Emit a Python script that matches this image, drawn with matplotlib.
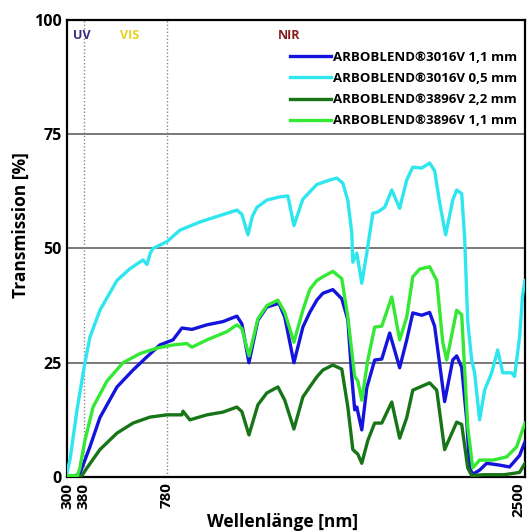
import matplotlib
matplotlib.use("Agg")
import matplotlib.pyplot as plt

plt.rcParams['font.family'] = ['Open Sans', 'DejaVu Sans']

# Transmission spectra (wavelength in nm, transmission in %)
wl_3016_11 = [300, 340, 362, 410, 458, 540, 617, 684, 746, 809, 852, 900, 972, 1049,
              1116, 1140, 1174, 1217, 1260, 1318, 1346, 1390, 1433, 1466, 1500, 1529,
              1577, 1620, 1649, 1668, 1682, 1692, 1716, 1740, 1778, 1812, 1850, 1898,
              1932, 1961, 2004, 2042, 2066, 2114, 2153, 2172, 2196, 2220, 2234, 2249,
              2282, 2316, 2378, 2426, 2474, 2500]
tr_3016_11 = [0.3, 0.3, 0.8, 6.6, 13, 19.7, 23.4, 26.3, 28.9, 30, 32.6, 32.3, 33.3, 34,
              35.2, 33.5, 25, 34.3, 37.2, 38, 35, 25, 32.8, 36, 38.7, 40.2,
              41, 39, 34.4, 21.9, 14.7, 15.3, 10.3, 19.5, 25.6, 25.8, 31.5, 23.9,
              30, 35.9, 35.4, 36, 33, 16.5, 25.6, 26.5, 24, 12.5, 2, 0.6,
              1.5, 3, 2.6, 2.2, 4.7, 7.7]

wl_3016_05 = [300, 315, 348, 386, 410, 458, 540, 600, 665, 684, 700, 713, 780, 842,
              938, 1020, 1116, 1140, 1169, 1190, 1212, 1260, 1322, 1361, 1390, 1433,
              1500, 1562, 1596, 1625, 1649, 1668, 1673, 1692, 1716, 1740, 1769, 1793,
              1826, 1860, 1898, 1932, 1961, 2004, 2042, 2066, 2090, 2119, 2153, 2172,
              2196, 2210, 2225, 2244, 2258, 2282, 2306, 2340, 2369, 2393, 2436, 2450,
              2474, 2489, 2500]
tr_3016_05 = [1.0, 4, 14.7, 25, 30.6, 36.5, 43, 45.5, 47.5, 46.5, 49, 50, 51.5, 54,
              55.8, 57, 58.4, 57.5, 53, 57, 59, 60.6, 61.3, 61.5, 55, 60.8,
              64, 65, 65.4, 64.3, 60.5, 53.4, 47, 49, 42.4, 49, 57.7, 58,
              59, 62.8, 58.8, 65, 67.8, 67.6, 68.7, 67, 60, 53, 60.6, 62.8,
              62, 52.5, 34, 25.6, 22.8, 12.5, 19, 22.8, 27.8, 22.8, 22.8, 22,
              30.6, 40, 43]

wl_3896_22 = [300, 370, 396, 458, 540, 617, 698, 780, 852, 857, 890, 972, 1049, 1116,
              1140, 1174, 1217, 1260, 1313, 1346, 1390, 1433, 1466, 1500, 1529, 1577,
              1620, 1649, 1673, 1697, 1716, 1745, 1778, 1812, 1860, 1898, 1932, 1961,
              2042, 2076, 2114, 2172, 2196, 2225, 2244, 2300, 2400, 2474, 2500]
tr_3896_22 = [0.2, 0.2, 2, 6, 9.6, 11.8, 13.1, 13.6, 13.6, 14.4, 12.5, 13.6, 14.2, 15.3,
              14.3, 9.2, 15.8, 18.4, 19.7, 16.8, 10.5, 17.5, 19.7, 21.9, 23.4, 24.5,
              23.6, 15.3, 6, 5, 3, 8, 11.8, 11.8, 16.4, 8.5, 13, 19,
              20.6, 19, 6, 12, 11.5, 2, 0.3, 0.5, 0.5, 1, 3]

wl_3896_11 = [300, 350, 362, 386, 425, 492, 569, 650, 732, 809, 876, 900, 972, 1068,
              1116, 1140, 1174, 1217, 1260, 1313, 1346, 1390, 1433, 1466, 1500, 1529,
              1577, 1620, 1649, 1682, 1697, 1716, 1745, 1778, 1812, 1860, 1898, 1932,
              1961, 1994, 2042, 2076, 2105, 2124, 2172, 2196, 2225, 2249, 2282, 2345,
              2412, 2460, 2500]
tr_3896_11 = [0.3, 0.3, 2, 8, 15.3, 21, 25, 27, 28.2, 28.9, 29.2, 28.4, 30, 31.8,
              33.3, 32.5, 26.5, 34.6, 37.5, 38.7, 36, 29.5, 36.5, 41, 43, 43.8,
              45, 43.4, 35, 22, 21, 16.8, 25.6, 32.8, 33, 39.4, 30, 35,
              43.8, 45.5, 46, 43, 29.5, 25.6, 36.5, 35.5, 11, 2, 3.7, 3.7,
              4.4, 6.6, 11.8]

series = [
    (wl_3016_11, tr_3016_11, "#1414dc", "ARBOBLEND®3016V 1,1 mm"),
    (wl_3016_05, tr_3016_05, "#2ee6ee", "ARBOBLEND®3016V 0,5 mm"),
    (wl_3896_22, tr_3896_22, "#177517", "ARBOBLEND®3896V 2,2 mm"),
    (wl_3896_11, tr_3896_11, "#34e834", "ARBOBLEND®3896V 1,1 mm"),
]

x_ticks = [300, 380, 780, 2500]
y_ticks = [0, 25, 50, 75, 100]
region_bounds = [380, 780]

fig = plt.figure(figsize=(5.29, 5.32), dpi=100)
ax = fig.add_axes([0.1267, 0.1034, 0.8657, 0.859])

for y in [25, 50, 75]:
    ax.axhline(y, color="#555555", lw=1.1, zorder=1)
for xb in region_bounds:
    ax.axvline(xb, color="#888888", lw=1.0, ls=(0, (1, 1.5)), zorder=1)

for wl, tr, col, lab in series:
    ax.plot(wl, tr, color=col, lw=2.4, label=lab, zorder=3)

ax.set_xlim(300, 2500)
ax.set_ylim(0, 100)
ax.set_xticks(x_ticks)
ax.set_xticklabels([str(v) for v in x_ticks], rotation=90, fontweight="bold", fontsize=11)
# keep the last rotated label inside the figure
ax.get_xticklabels()[-1].set_horizontalalignment("right")
ax.set_yticks(y_ticks)
ax.set_yticklabels([str(v) for v in y_ticks], fontweight="bold", fontsize=11.5)
ax.tick_params(length=0, pad=4)
for sp in ax.spines.values():
    sp.set_linewidth(1.6)
    sp.set_color("black")

ax.text(0.012, 0.965, "UV", transform=ax.transAxes, color="#3d2a86",
        fontweight="bold", fontsize=9, va="center")
ax.text(0.116, 0.965, "VIS", transform=ax.transAxes, color="#e6d21e",
        fontweight="bold", fontsize=9, va="center")
ax.text(0.461, 0.965, "NIR", transform=ax.transAxes, color="#8a1c1c",
        fontweight="bold", fontsize=9, va="center")

leg = ax.legend(loc="upper right", bbox_to_anchor=(1.0, 0.95), frameon=False,
                prop={"weight": "bold", "size": 9.5}, handlelength=3.1,
                handletextpad=0.15, labelspacing=0.62, borderaxespad=0.2)

fig.text(0.535, 0.018, "Wellenlänge [nm]", ha="center", va="center",
         fontweight="bold", fontsize=12.5)
fig.text(0.04, 0.577, "Transmission [%]", ha="center", va="center",
         rotation=90, fontweight="bold", fontsize=12.5)

fig.savefig("out.png", dpi=100)
